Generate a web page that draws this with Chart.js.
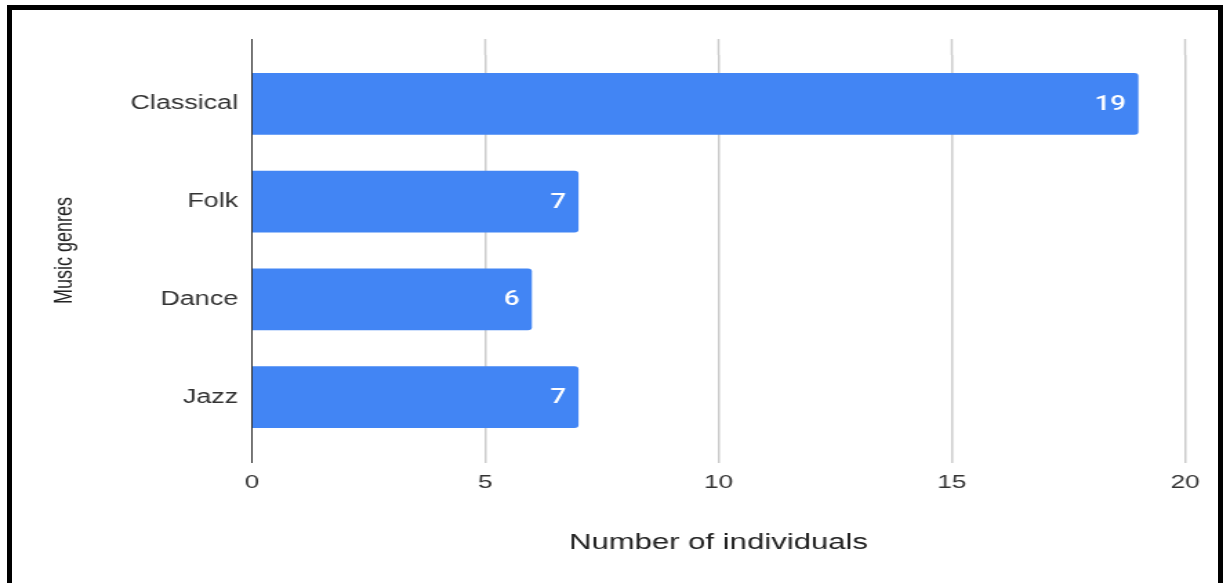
<!DOCTYPE html>
<html>
<head>
<meta charset="utf-8">
<script src="https://cdn.jsdelivr.net/npm/chart.js@4.4.1/dist/chart.umd.min.js"></script>
<style>
  html, body { margin: 0; padding: 0; background: #fff; overflow: hidden; }
  #frame {
    position: absolute; left: 7px; top: 5px; width: 1216px; height: 640px;
    box-sizing: border-box; border: 5px solid #000; border-bottom: none;
    pointer-events: none; z-index: 2;
  }
  /* the picture is stretched sideways, so draw narrow and scale it out */
  #wrap {
    position: absolute; left: 0; top: 0; width: 886px; height: 583px;
    transform: scaleX(1.3804); transform-origin: 0 0;
  }
</style>
</head>
<body>
<div id="frame"></div>
<div id="wrap"><canvas id="genreChart"></canvas></div>
<script>
const genres = ["Classical", "Folk", "Dance", "Jazz"];
const counts = [19, 7, 6, 7];
const xTicks = [0, 5, 10, 15, 20];

const textFont = "'Liberation Sans', Arial, sans-serif";
const gridColor = (c) => (c.tick && c.tick.value === 0 ? "#333333" : "#cccccc");
const gridWidth = (c) => (c.tick && c.tick.value === 0 ? 1 : 1.5);

// value written at the end of each bar
const valueLabels = {
  id: "valueLabels",
  afterDatasetsDraw(chart) {
    const ctx = chart.ctx;
    const meta = chart.getDatasetMeta(0);
    ctx.save();
    ctx.fillStyle = "#ffffff";
    ctx.font = "500 20px Roboto, sans-serif";
    ctx.textAlign = "right";
    ctx.textBaseline = "middle";
    meta.data.forEach((bar, i) => {
      ctx.fillText(String(counts[i]), bar.x - 9, bar.y + 1);
    });
    ctx.restore();
  }
};

const ctx = document.getElementById("genreChart").getContext("2d");
new Chart(ctx, {
  type: "bar",
  data: {
    labels: genres,
    datasets: [{
      data: counts,
      backgroundColor: "#4285f4",
      borderWidth: 0,
      borderRadius: 3,
      borderSkipped: "start",
      categoryPercentage: 1,
      barPercentage: 0.634
    }]
  },
  options: {
    indexAxis: "y",
    responsive: true,
    maintainAspectRatio: false,
    animation: false,
    layout: { padding: { left: 14, right: 27.5, top: 39, bottom: 0 } },
    plugins: {
      legend: { display: false },
      tooltip: { enabled: false }
    },
    scales: {
      x: {
        position: "bottom",
        min: xTicks[0],
        max: xTicks[xTicks.length - 1],
        afterBuildTicks: (s) => { s.ticks = xTicks.map(v => ({ value: v })); },
        afterFit: (s) => { s.height = 137; },
        border: { display: false },
        grid: { color: gridColor, lineWidth: gridWidth, tickLength: 17, tickColor: gridColor, tickWidth: gridWidth },
        ticks: { padding: 8, color: "#333333", font: { family: textFont, size: 19 } },
        title: {
          display: true,
          text: "Number of individuals",
          color: "#222222",
          font: { family: textFont, size: 22.5 },
          padding: { top: 0, bottom: 27 }
        }
      },
      x2: {
        position: "top",
        axis: "x",
        min: xTicks[0],
        max: xTicks[xTicks.length - 1],
        afterBuildTicks: (s) => { s.ticks = xTicks.map(v => ({ value: v })); },
        afterFit: (s) => { s.height = 16; },
        border: { display: false },
        grid: { drawOnChartArea: false, tickLength: 16, tickColor: gridColor, tickWidth: gridWidth },
        ticks: { display: false }
      },
      y: {
        afterFit: (s) => { s.width = 168.5; },
        border: { display: false },
        grid: { display: false, drawTicks: false },
        ticks: { padding: 10, color: "#333333", font: { family: textFont, size: 19.5 } },
        title: {
          display: true,
          text: "Music genres",
          color: "#222222",
          font: { family: textFont, size: 18 },
          padding: { top: 22, bottom: 0 }
        }
      }
    }
  },
  plugins: [valueLabels]
});
</script>
</body>
</html>
